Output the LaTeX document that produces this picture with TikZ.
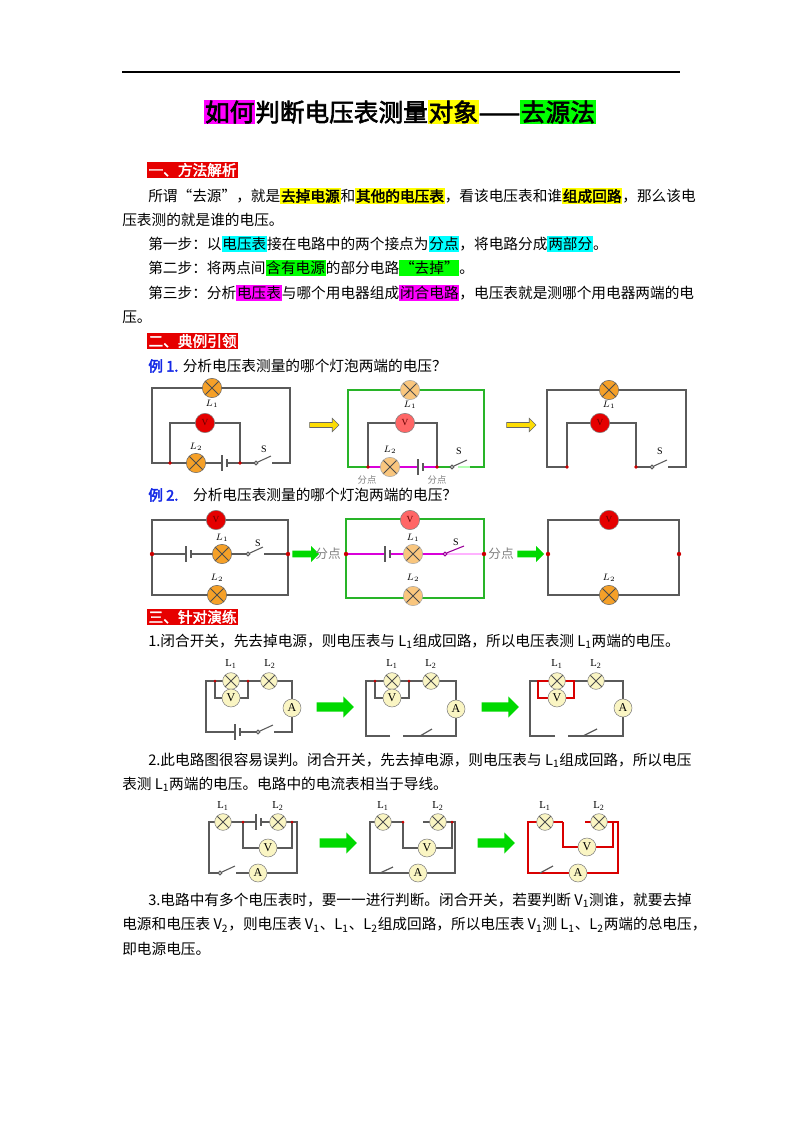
\documentclass[tikz,border=0pt]{standalone}
\usepackage{fontspec}
\setmainfont{Liberation Serif}
\newfontfamily\cjk[AutoFakeBold=2.5]{Noto Sans CJK SC}
\usetikzlibrary{shapes.arrows}
\definecolor{hlmag}{RGB}{255,0,255}
\definecolor{hlyel}{RGB}{255,255,0}
\definecolor{hlgrn}{RGB}{0,255,0}
\definecolor{hlcyn}{RGB}{0,255,255}
\definecolor{secred}{RGB}{230,0,0}
\definecolor{wiregray}{RGB}{90,90,90}
\definecolor{boxgreen}{RGB}{40,180,40}
\definecolor{lampor}{RGB}{245,160,40}
\definecolor{lampyel}{RGB}{250,245,195}
\definecolor{exblue}{RGB}{20,40,230}
\newcommand\hl[2]{{\setlength\fboxsep{0.6pt}\colorbox{#1}{#2}}}
% battery and switch on a horizontal wire
\newcommand\batt[2]{\fill[white] (#1-1,#2-2) rectangle (#1+5,#2+2);
  \draw[wiregray, line width=0.8pt] (#1,#2-8) -- (#1,#2+8);
  \draw[wiregray, line width=2pt] (#1+5,#2-4) -- (#1+5,#2+4);}
\newcommand\swt[2]{\fill[white] (#1,#2-2) rectangle (#1+16,#2+2);
  \draw[wiregray, line width=0.8pt, fill=white] (#1,#2) circle (1.8);
  \draw[wiregray, line width=0.8pt] (#1+1.5,#2-0.8) -- (#1+15,#2-7);}
\begin{document}
\begin{tikzpicture}[x=0.75pt, y=-0.75pt,
txt/.style = {anchor=west, inner sep=0pt, font=\cjk\fontsize{11}{13}\selectfont},
sect/.style = {anchor=west, inner sep=1pt, fill=secred, text=white, font=\cjk\bfseries\fontsize{11}{13}\selectfont},
wire/.style = {wiregray, line width=0.9pt},
greenbox/.style = {boxgreen, line width=2pt},
mag/.style = {hlmag!85!black, line width=2pt},
redw/.style = {red!85!black, line width=1.6pt},
lampA/.style = {circle, draw=black!60, fill=lampor, minimum size=14.5pt, inner sep=0pt,
  path picture={\draw[black!70, line width=0.6pt] (path picture bounding box.north west) -- (path picture bounding box.south east)
    (path picture bounding box.north east) -- (path picture bounding box.south west);}},
fadeA/.style = {lampA, fill=lampor!60, draw=black!35},
meterA/.style = {circle, draw=black!50, fill=red!90!black, minimum size=14.5pt, inner sep=0pt, text=red!40!black, font=\fontsize{7}{7}\selectfont},
fadeM/.style = {meterA, fill=red!60},
lampB/.style = {lampA, fill=lampyel, draw=black!50, minimum size=12.5pt},
meterB/.style = {circle, draw=black!50, fill=lampyel, minimum size=13.5pt, inner sep=0pt, font=\fontsize{9}{9}\selectfont},
lbl/.style = {inner sep=0pt, font=\fontsize{7.5}{8}\selectfont},
lblB/.style = {inner sep=0pt, font=\fontsize{8}{8}\selectfont},
fen/.style = {inner sep=0pt, text=black!50, font=\cjk\fontsize{7}{8}\selectfont},
yarrow/.style = {single arrow, draw=black!60, fill=yellow!80!orange, minimum height=22pt, minimum width=10pt, single arrow head extend=2pt, inner sep=1pt},
garrow/.style = {single arrow, fill=green!85!black, minimum height=28pt, minimum width=16pt, single arrow head extend=3pt, inner sep=2pt},
dot/.style = {red!80!black}]
\useasboundingbox (0,0) rectangle (800,1132);
\draw[line width=0.8pt] (122,72) -- (680,72);

% heading
\node[inner sep=0pt, font=\cjk\bfseries\fontsize{18.5}{22}\selectfont] (title) at (400,112)
  {\hl{hlmag}{如何}判断电压表测量\hl{hlyel}{对象}——\hl{hlgrn}{去源法}};

\node[sect] (s1) at (147,170) {一、方法解析};
\node[txt] (p1) at (148,196) {所谓“去源”，就是\hl{hlyel}{\bfseries 去掉电源}和\hl{hlyel}{\bfseries 其他的电压表}，看该电压表和谁\hl{hlyel}{\bfseries 组成回路}，那么该电};
\node[txt] (p1b) at (122,220) {压表测的就是谁的电压。};
\node[txt] (p2) at (148,244) {第一步：以\hl{hlcyn}{电压表}接在电路中的两个接点为\hl{hlcyn}{分点}，将电路分成\hl{hlcyn}{两部分}。};
\node[txt] (p3) at (148,268) {第二步：将两点间\hl{hlgrn}{含有电源}的部分电路\hl{hlgrn}{“去掉”}。};
\node[txt] (p4) at (148,293) {第三步：分析\hl{hlmag}{电压表}与哪个用电器组成\hl{hlmag}{闭合电路}，电压表就是测哪个用电器两端的电};
\node[txt] (p4b) at (122,317) {压。};

\node[sect] (s2) at (147,341) {二、典例引领};
\node[txt] (e1) at (148,366) {\textcolor{exblue}{\bfseries 例 1.} 分析电压表测量的哪个灯泡两端的电压？};

% example 1
\draw[wire] (170,463) -- (152,463) -- (152,388) -- (290,388) -- (290,463) -- (256,463) -- (170,463);
\draw[wire] (170,463) -- (170,423) -- (240,423) -- (240,463);
\batt{222}{463} \swt{256}{463}
\node[lampA] (a1l1) at (212,388) {};
\node[lbl] (a1t1) at (212,404) {$L_1$};
\node[meterA] (a1v) at (205,423) {V};
\node[lampA] (a1l2) at (196,463) {};
\node[lbl] (a1t2) at (196,447) {$L_2$};
\node[lbl] (a1s) at (264,449) {S};
\fill[dot] (170,463) circle (1.8) (240,463) circle (1.8);
\node[yarrow] (y1) at (323,425) {};

\draw[greenbox] (452,467) -- (437,467) (470,467) -- (484,467) -- (484,390) -- (348,390) -- (348,467) -- (368,467);
\draw[wire] (368,467) -- (368,423) -- (437,423) -- (437,467);
\draw[mag] (368,467) -- (437,467);
\batt{418}{467} \swt{452}{467}
\draw[green!30, line width=2pt] (458,467) -- (470,467);
\node[fadeA] (b1l1) at (410,390) {};
\node[lbl] (b1t1) at (410,405) {$L_1$};
\node[fadeM] (b1v) at (405,423) {V};
\node[fadeA] (b1l2) at (390,467) {};
\node[lbl] (b1t2) at (390,450) {$L_2$};
\node[lbl] (b1s) at (459,451) {S};
\node[fen] (b1f1) at (367,480) {分点};
\node[fen] (b1f2) at (437,480) {分点};
\fill[dot] (368,467) circle (1.8) (437,467) circle (1.8);
\node[yarrow] (y2) at (520,425) {};

\draw[wire] (567,467) -- (547,467) -- (547,390) -- (686,390) -- (686,467) -- (652,467);
\draw[wire] (567,467) -- (567,423) -- (636,423) -- (636,467) -- (652,467);
\swt{652}{467}
\node[lampA] (c1l1) at (609,390) {};
\node[lbl] (c1t1) at (609,405) {$L_1$};
\node[meterA] (c1v) at (600,423) {V};
\node[lbl] (c1s) at (660,451) {S};
\fill[dot] (567,467) circle (1.8) (636,467) circle (1.8);

\node[txt] (e2) at (148,495) {\textcolor{exblue}{\bfseries 例 2.}\quad 分析电压表测量的哪个灯泡两端的电压？};

% example 2
\draw[wire] (152,520) rectangle (288,595);
\draw[wire] (152,554) -- (288,554);
\batt{186}{554} \swt{248}{554}
\node[meterA] (a2v) at (216,520) {V};
\node[lampA] (a2l1) at (222,554) {};
\node[lbl] (a2t1) at (222,538) {$L_1$};
\node[lampA] (a2l2) at (217,595) {};
\node[lbl] (a2t2) at (217,578) {$L_2$};
\node[lbl] (a2s) at (258,543) {S};
\fill[dot] (152,554) circle (2.2) (288,554) circle (2.2);
\node[garrow, minimum height=20pt, minimum width=12pt] (g1) at (304,554) {};
\node[fen, font=\cjk\fontsize{9.5}{10}\selectfont] (a2f) at (328,554) {分点};

\draw[greenbox] (346,519) rectangle (484,598);
\draw[mag] (346,554) -- (445,554);
\draw[hlmag!30, line width=2pt] (445,554) -- (484,554);
\batt{385}{554}
\draw[hlmag!60!black, line width=0.8pt, fill=white] (445,554) circle (1.8);
\draw[hlmag!60!black, line width=0.8pt] (446.5,553) -- (464,546);
\node[fadeM] (b2v) at (410,520) {V};
\node[fadeA] (b2l1) at (413,554) {};
\node[lbl] (b2t1) at (413,538) {$L_1$};
\node[fadeA] (b2l2) at (413,596) {};
\node[lbl] (b2t2) at (413,578) {$L_2$};
\node[lbl] (b2s) at (456,542) {S};
\fill[dot] (346,554) circle (2.2) (484,554) circle (2.2);
\node[fen, font=\cjk\fontsize{9.5}{10}\selectfont] (b2f) at (501,554) {分点};
\node[garrow, minimum height=20pt, minimum width=12pt] (g2) at (529,554) {};

\draw[wire] (548,520) rectangle (679,595);
\node[meterA] (c2v) at (609,520) {V};
\node[lampA] (c2l2) at (609,595) {};
\node[lbl] (c2t2) at (609,578) {$L_2$};
\fill[dot] (548,554) circle (2.2) (679,554) circle (2.2);

\node[sect] (s3) at (147,617) {三、针对演练};
\node[txt] (q1) at (148,641) {1.闭合开关，先去掉电源，则电压表与 L\textsubscript{1}组成回路，所以电压表测 L\textsubscript{1}两端的电压。};

% exercise 1
\draw[wire] (206,681) rectangle (292,732);
\draw[wire] (215,681) -- (215,698) -- (248,698) -- (248,681);
\batt{235}{732} \swt{258}{732}
\node[lampB] (x1l1) at (231,681) {};
\node[lampB] (x1l2) at (269,681) {};
\node[lblB] (x1t1) at (231,664) {L\textsubscript{1}};
\node[lblB] (x1t2) at (270,664) {L\textsubscript{2}};
\node[meterB] (x1v) at (231,698) {V};
\node[meterB] (x1a) at (292,708) {A};
\fill[dot] (215,681) circle (1.5) (248,681) circle (1.5);
\node[garrow] (g3) at (333,707) {};

\draw[wire] (390,736) -- (366,736) -- (366,681) -- (456,681) -- (456,736) -- (403,736);
\draw[wire] (420,736) -- (432,729);
\draw[wire] (375,681) -- (375,698) -- (409,698) -- (409,681);
\node[lampB] (y1l1) at (392,681) {};
\node[lampB] (y1l2) at (431,681) {};
\node[lblB] (y1t1) at (392,664) {L\textsubscript{1}};
\node[lblB] (y1t2) at (431,664) {L\textsubscript{2}};
\node[meterB] (y1v) at (392,698) {V};
\node[meterB] (y1a) at (456,709) {A};
\fill[dot] (375,681) circle (1.5) (409,681) circle (1.5);
\node[garrow] (g4) at (498,707) {};

\draw[wire] (555,736) -- (530,736) -- (530,681) -- (623,681) -- (623,736) -- (568,736);
\draw[wire] (583,736) -- (597,729);
\draw[redw] (538,681) -- (538,698) -- (574,698) -- (574,681) -- cycle;
\node[lampB] (z1l1) at (557,681) {};
\node[lampB] (z1l2) at (596,681) {};
\node[lblB] (z1t1) at (557,664) {L\textsubscript{1}};
\node[lblB] (z1t2) at (596,664) {L\textsubscript{2}};
\node[meterB] (z1v) at (557,698) {V};
\node[meterB] (z1a) at (623,708) {A};

\node[txt] (q2) at (148,760) {2.此电路图很容易误判。闭合开关，先去掉电源，则电压表与 L\textsubscript{1}组成回路，所以电压};
\node[txt] (q2b) at (122,784) {表测 L\textsubscript{1}两端的电压。电路中的电流表相当于导线。};

% exercise 2
\draw[wire] (209,822) rectangle (297,873);
\draw[wire] (243,822) -- (243,848) -- (292,848) -- (292,822);
\batt{256}{822} \swt{220}{873}
\node[lampB] (x2l1) at (223,822) {};
\node[lampB] (x2l2) at (278,822) {};
\node[lblB] (x2t1) at (223,806) {L\textsubscript{1}};
\node[lblB] (x2t2) at (278,806) {L\textsubscript{2}};
\node[meterB] (x2v) at (268,848) {V};
\node[meterB] (x2a) at (258,873) {A};
\fill[dot] (243,822) circle (1.5) (292,822) circle (1.5);
\node[garrow] (g5) at (336,843) {};

\draw[wire] (403,822) -- (370,822) -- (370,873) -- (455,873) -- (455,822) -- (423,822);
\draw[wire] (403,822) -- (403,848) -- (452,848) -- (452,822);
\draw[wire] (380,873) -- (393,867);
\node[lampB] (y2l1) at (383,822) {};
\node[lampB] (y2l2) at (438,822) {};
\node[lblB] (y2t1) at (383,806) {L\textsubscript{1}};
\node[lblB] (y2t2) at (438,806) {L\textsubscript{2}};
\node[meterB] (y2v) at (427,848) {V};
\node[meterB] (y2a) at (418,873) {A};
\fill[dot] (403,822) circle (1.5) (452,822) circle (1.5);
\node[garrow] (g6) at (494,843) {};

\draw[redw] (563,822) -- (563,847) -- (613,847) -- (613,822);
\draw[redw] (585,822) -- (618,822) -- (618,873) -- (528,873) -- (528,822) -- (563,822);
\draw[wire] (540,873) -- (553,866);
\node[lampB] (z2l1) at (545,822) {};
\node[lampB] (z2l2) at (599,822) {};
\node[lblB] (z2t1) at (545,806) {L\textsubscript{1}};
\node[lblB] (z2t2) at (599,806) {L\textsubscript{2}};
\node[meterB] (z2v) at (587,847) {V};
\node[meterB] (z2a) at (578,873) {A};

\node[txt] (q3) at (148,900) {3.电路中有多个电压表时，要一一进行判断。闭合开关，若要判断 V\textsubscript{1}测谁，就要去掉};
\node[txt] (q3b) at (122,925) {电源和电压表 V\textsubscript{2}，则电压表 V\textsubscript{1}、L\textsubscript{1}、L\textsubscript{2}组成回路，所以电压表 V\textsubscript{1}测 L\textsubscript{1}、L\textsubscript{2}两端的总电压，};
\node[txt] (q3c) at (122,949) {即电源电压。};
\end{tikzpicture}
\end{document}
